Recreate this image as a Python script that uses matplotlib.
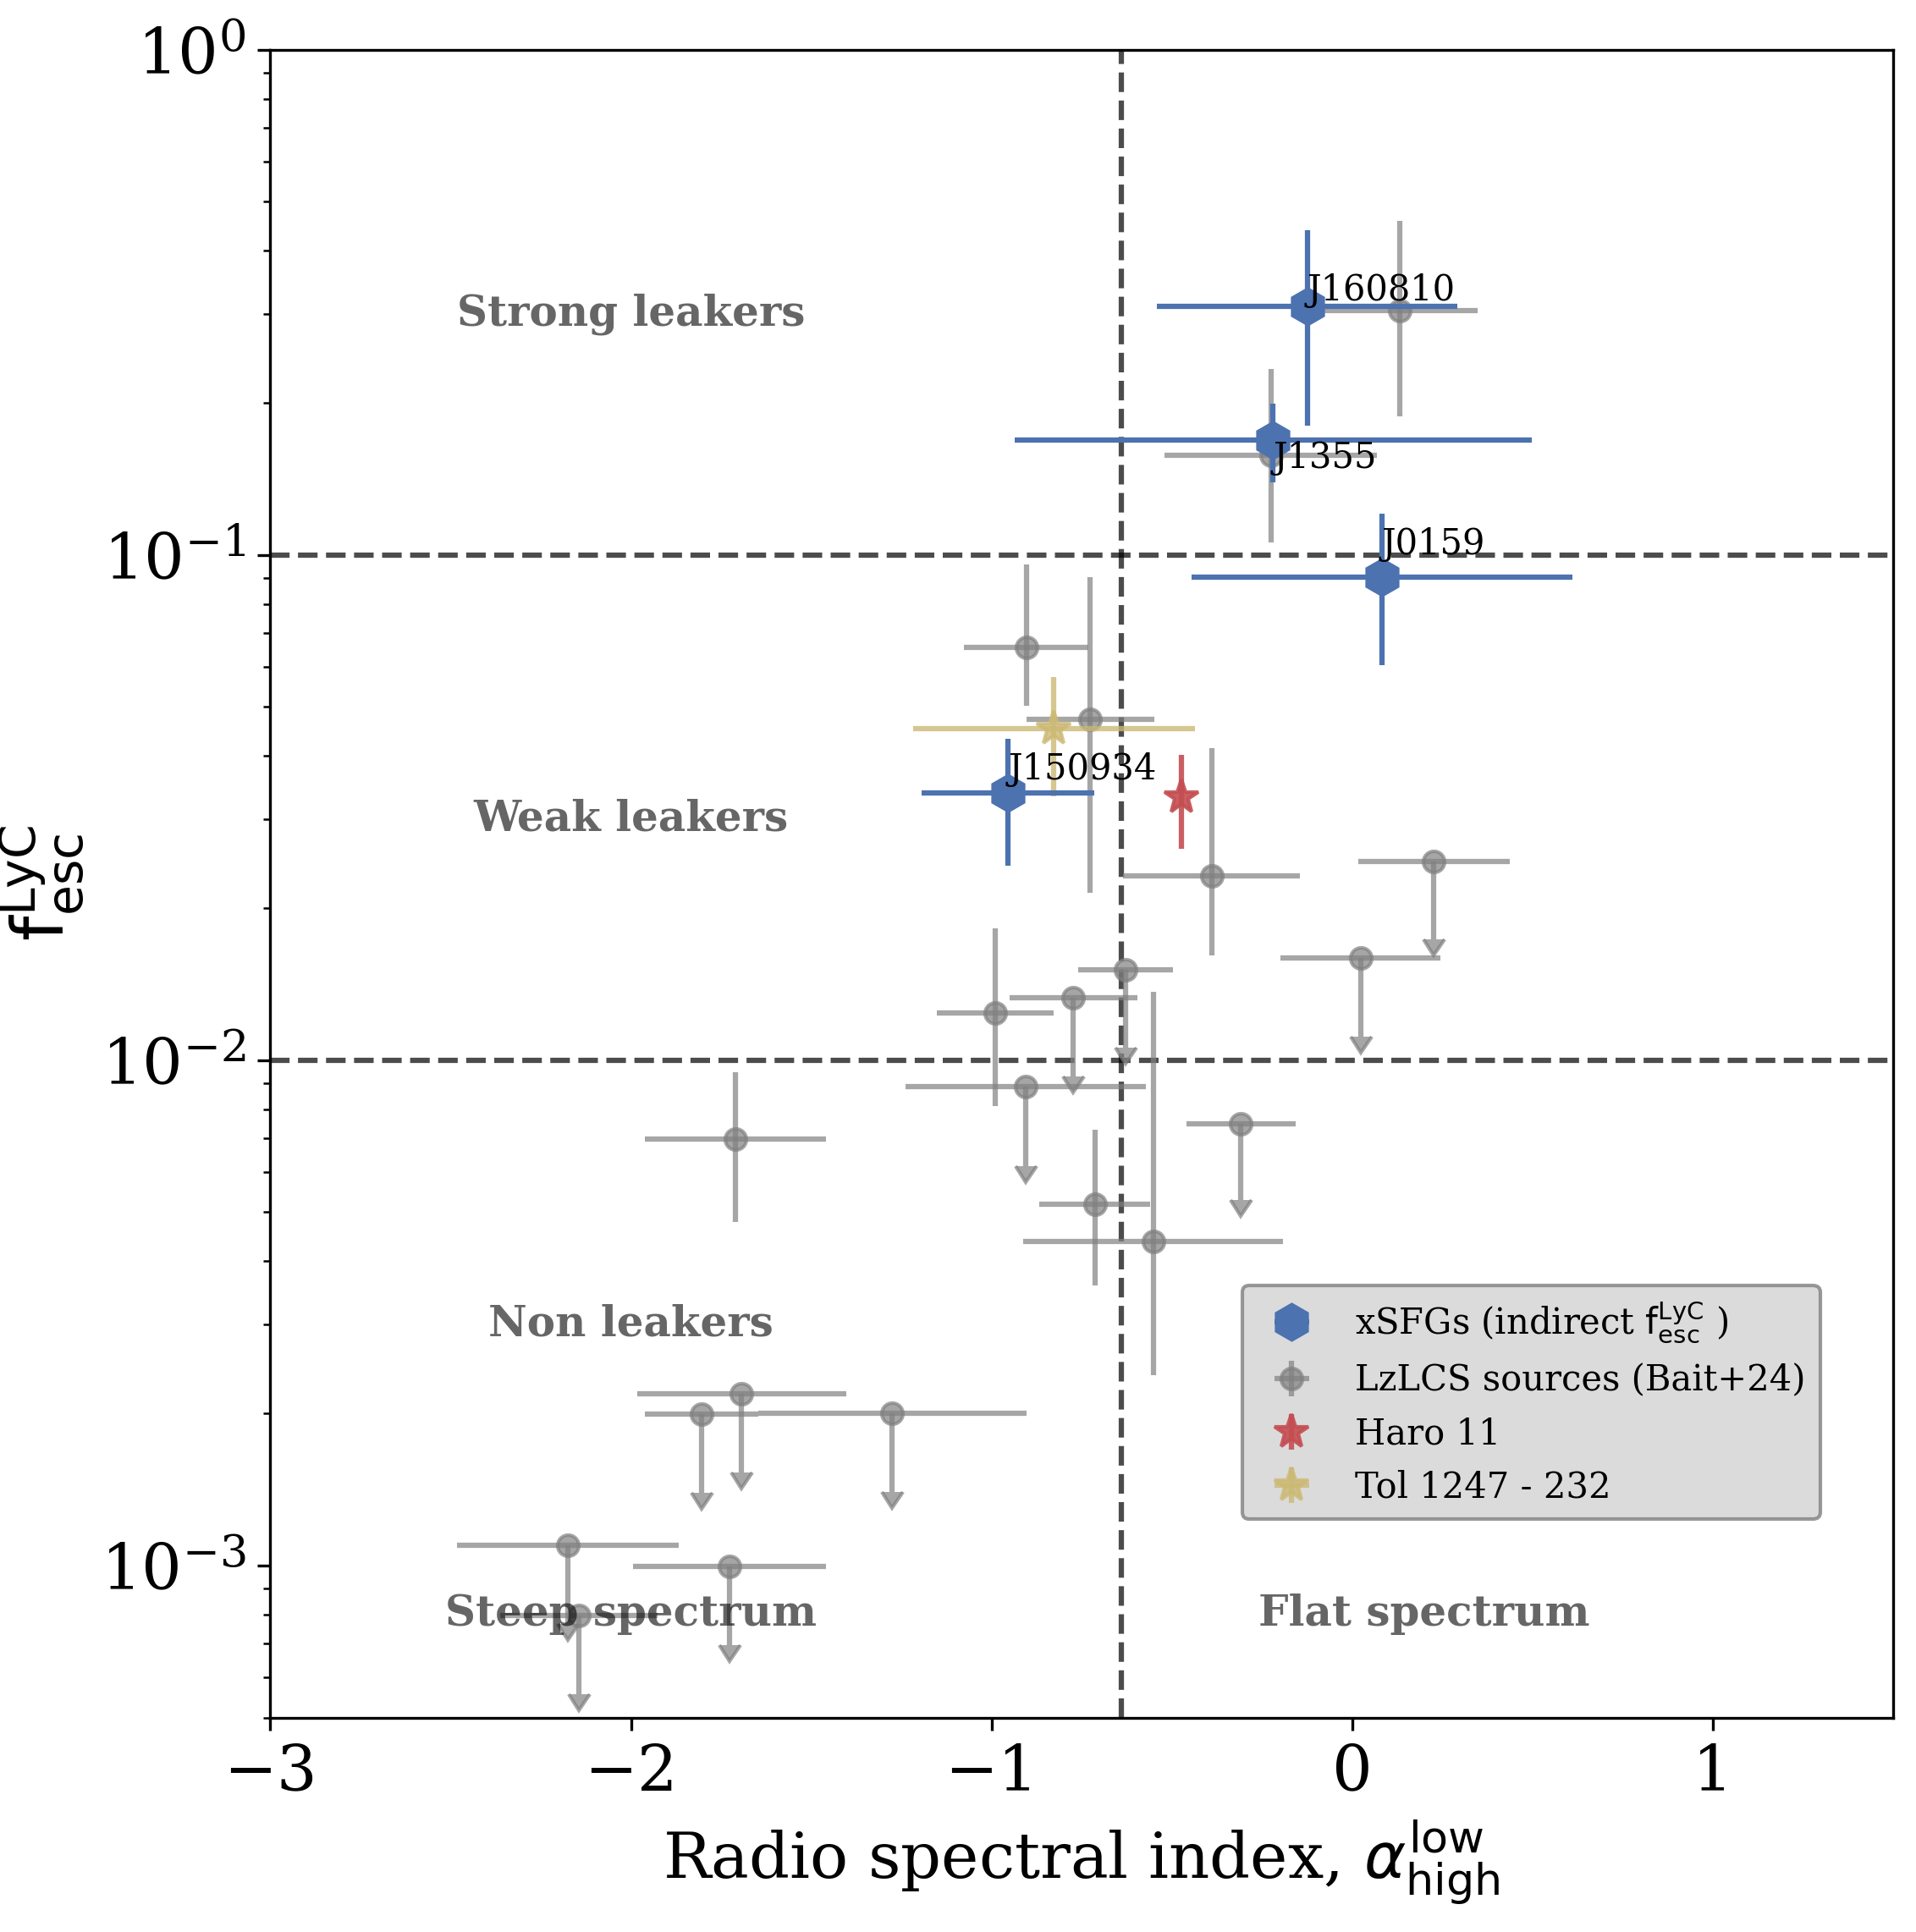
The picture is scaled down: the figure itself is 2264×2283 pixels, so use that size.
import numpy as np
import matplotlib
matplotlib.use('Agg')
import matplotlib.pyplot as plt

plt.rcParams['font.family'] = 'serif'
plt.rcParams['font.serif'] = ['DejaVu Serif']

# ---------------- data ----------------
# xSFGs (indirect fesc)
xsfg_names = ['J160810', 'J1355', 'J0159', 'J150934']
xsfg_alpha = [-0.125, -0.220, 0.082, -0.954]
xsfg_alpha_err = [0.417, 0.717, 0.528, 0.239]
xsfg_fesc = [0.310, 0.169, 0.0905, 0.0338]
xsfg_fesc_err = [0.130, 0.030, 0.030, 0.0095]
xsfg_label_y = [0.319, 0.1485, 0.1004, 0.0359]

# LzLCS sources (Bait+24): detections
lz_alpha = [0.131, -0.226, -0.904, -0.726, -0.390, -0.989, -0.714, -0.552, -1.711]
lz_alpha_err = [0.217, 0.295, 0.172, 0.177, 0.245, 0.162, 0.153, 0.361, 0.251]
lz_fesc = [0.304, 0.1577, 0.0657, 0.0472, 0.0232, 0.0124, 0.00518, 0.00438, 0.00698]
lz_fesc_err_lo = [0.116, 0.052, 0.0154, 0.0258, 0.0071, 0.0043, 0.0016, 0.0020, 0.0022]
lz_fesc_err_hi = [0.154, 0.076, 0.030, 0.0431, 0.0183, 0.0058, 0.0021, 0.0093, 0.0025]

# LzLCS sources (Bait+24): upper limits
lzul_alpha = [-0.773, -0.628, -0.905, -0.309, 0.226, 0.023, -1.693, -1.804,
              -1.275, -2.175, -1.727, -2.144]
lzul_alpha_err = [0.178, 0.131, 0.333, 0.151, 0.210, 0.222, 0.289, 0.158,
                  0.373, 0.308, 0.268, 0.219]
lzul_fesc = [0.01328, 0.01507, 0.00887, 0.00749, 0.02473, 0.01595, 0.00219,
             0.00199, 0.00200, 0.001096, 0.000996, 0.000797]
lzul_arrow = [0.0040, 0.0045, 0.0027, 0.0022, 0.0074, 0.0048, 0.00066,
              0.00060, 0.00060, 0.00033, 0.00030, 0.00024]

# Haro 11
haro_alpha = [-0.473]
haro_fesc = [0.0332]
haro_fesc_err = [0.007]

# Tol 1247-232
tol_alpha = [-0.827]
tol_alpha_err = [0.39]
tol_fesc = [0.0453]
tol_fesc_err = [0.012]

# region labels
region_text = ['Strong leakers', 'Weak leakers', 'Non leakers', 'Steep spectrum', 'Flat spectrum']
region_x = [-2.0, -2.0, -2.0, -2.0, 0.2]
region_y = [0.3, 0.03, 0.003, 8e-4, 8e-4]

alpha_split = -0.64
fesc_splits = [0.1, 0.01]

# ---------------- figure ----------------
W, H, DPI = 2264, 2283, 300
fig = plt.figure(figsize=(W / DPI, H / DPI), dpi=DPI)
ax = fig.add_axes([319.3 / W, 1 - 2029.5 / H, 1917.9 / W, 1970.8 / H])

blue, red, yellow = '#4C72B0', '#C44E52', '#CCB974'

for yv in fesc_splits:
    ax.axhline(yv, color='k', ls='--', lw=1.5, alpha=0.7, zorder=1)
ax.axvline(alpha_split, color='k', ls='--', lw=1.5, alpha=0.7, zorder=1)

h_lz = ax.errorbar(lz_alpha, lz_fesc, xerr=lz_alpha_err,
                   yerr=[lz_fesc_err_lo, lz_fesc_err_hi],
                   fmt='o', color='gray', alpha=0.7, ms=6, lw=1.5, zorder=2,
                   label='LzLCS sources (Bait+24)')
ax.errorbar(lzul_alpha, lzul_fesc, xerr=lzul_alpha_err,
            yerr=lzul_arrow, uplims=True,
            fmt='o', color='gray', alpha=0.7, ms=6, lw=1.5, zorder=2)
h_tol = ax.errorbar(tol_alpha, tol_fesc, xerr=tol_alpha_err, yerr=tol_fesc_err,
                    fmt='*', color=yellow, alpha=0.8, ms=10, lw=1.5, zorder=3,
                    label='Tol 1247 - 232')
h_haro = ax.errorbar(haro_alpha, haro_fesc, yerr=haro_fesc_err,
                     fmt='*', color=red, alpha=0.9, ms=10, lw=1.5, zorder=3,
                     label='Haro 11')
h_x = ax.errorbar(xsfg_alpha, xsfg_fesc, xerr=xsfg_alpha_err, yerr=xsfg_fesc_err,
                  fmt='h', color=blue, ms=10, lw=1.5, zorder=4,
                  label=r'xSFGs (indirect $\mathrm{f}_{\rm esc}^{\rm LyC}$ )')

for name, xv, yv in zip(xsfg_names, xsfg_alpha, xsfg_label_y):
    ax.text(xv, yv, name, fontsize=10, ha='left', va='baseline', zorder=5)

for t, xv, yv in zip(region_text, region_x, region_y):
    ax.text(xv, yv, t, fontsize=12, fontweight='bold', color='k', alpha=0.6,
            ha='center', va='center', zorder=5)

ax.set_yscale('log')
ax.set_xlim(-3, 1.5)
ax.set_ylim(5e-4, 1)
ax.set_xticks([-3, -2, -1, 0, 1])
ax.tick_params(labelsize=18)
ax.set_xlabel(r'Radio spectral index, $\alpha^{\rm low}_{\rm high}$', fontsize=18)
ax.set_ylabel(r'$\mathrm{f}_{\rm esc}^{\rm LyC}$', fontsize=20)

leg = ax.legend([h_x, h_lz, h_haro, h_tol],
                [h_x.get_label(), h_lz.get_label(), h_haro.get_label(), h_tol.get_label()],
                loc='lower left', bbox_to_anchor=((1468 - 319.3) / 1917.9, (2029.5 - 1795) / 1970.8),
                borderaxespad=0, fontsize=10, facecolor='lightgray', edgecolor='gray',
                framealpha=0.8)

fig.savefig('out.png', dpi=DPI)
